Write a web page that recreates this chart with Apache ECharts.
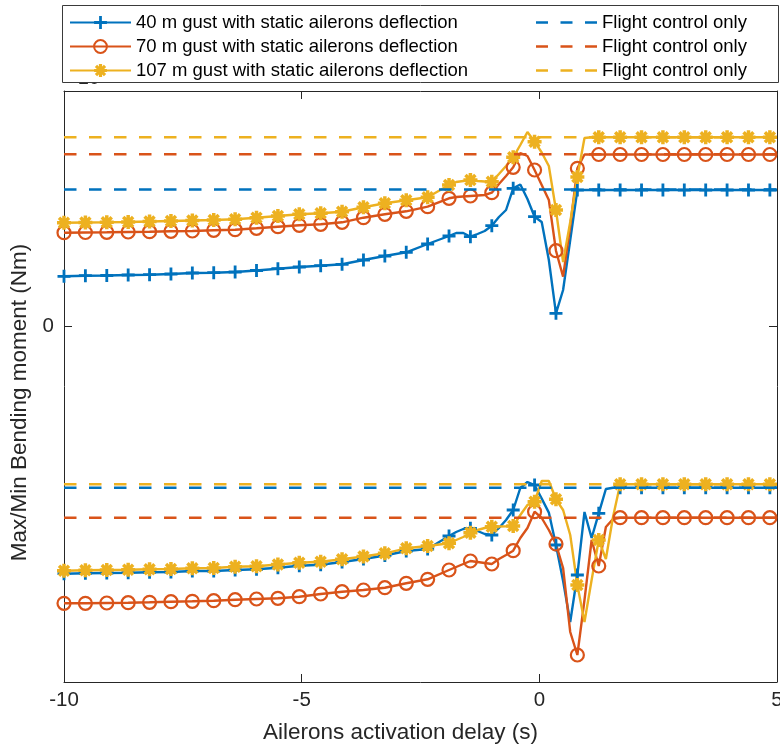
<!DOCTYPE html>
<html>
<head>
<meta charset="utf-8">
<script src="https://cdn.jsdelivr.net/npm/echarts@6/dist/echarts.min.js"></script>
<style>
html,body{margin:0;padding:0;background:#ffffff;}
#chart{width:780px;height:747px;}
</style>
</head>
<body>
<div id="chart"></div>
<script>
// ---------------- data ----------------
const delays = [-10, -9.55, -9.1, -8.65, -8.2, -7.75, -7.3, -6.85, -6.4, -5.95, -5.5, -5.05, -4.6, -4.15, -3.7, -3.25, -2.8, -2.35,
  -1.9, -1.75, -1.6, -1.45, -1.3, -1.15, -1.0, -0.85, -0.7, -0.55, -0.4, -0.25, -0.1, 0.05, 0.2, 0.35, 0.5, 0.65, 0.8, 0.95, 1.1, 1.25, 1.4, 1.55, 1.7,
  2.15, 2.6, 3.05, 3.5, 3.95, 4.4, 4.85, 5.0];

const gust40Max = [0.497, 0.503, 0.505, 0.51, 0.513, 0.52, 0.53, 0.533, 0.54, 0.555, 0.573, 0.59, 0.603, 0.617, 0.66, 0.70, 0.737, 0.82,
  0.90, 0.93, 0.93, 0.893, 0.92, 0.95, 1.003, 1.09, 1.16, 1.377, 1.415, 1.27, 1.093, 1.04, 0.66, 0.127, 0.36, 0.86, 1.36, 1.36, 1.36, 1.36, 1.36, 1.36, 1.36,
  1.36, 1.36, 1.36, 1.36, 1.36, 1.36, 1.36, 1.36];
const gust70Max = [0.933, 0.935, 0.937, 0.94, 0.943, 0.947, 0.95, 0.957, 0.963, 0.977, 0.993, 1.007, 1.017, 1.037, 1.083, 1.117, 1.147, 1.193,
  1.277, 1.29, 1.295, 1.30, 1.305, 1.31, 1.333, 1.42, 1.50, 1.587, 1.73, 1.70, 1.56, 1.41, 1.26, 0.753, 0.493, 1.00, 1.577, 1.715, 1.715, 1.715, 1.715, 1.715, 1.715,
  1.715, 1.715, 1.715, 1.715, 1.715, 1.715, 1.715, 1.715];
const gust107Max = [1.033, 1.035, 1.037, 1.04, 1.045, 1.05, 1.055, 1.06, 1.067, 1.083, 1.10, 1.117, 1.127, 1.143, 1.187, 1.227, 1.257, 1.287,
  1.41, 1.44, 1.45, 1.46, 1.45, 1.445, 1.443, 1.52, 1.60, 1.687, 1.81, 1.94, 1.843, 1.735, 1.60, 1.16, 0.64, 1.04, 1.49, 1.88, 1.887, 1.887, 1.887, 1.887, 1.887,
  1.887, 1.887, 1.887, 1.887, 1.887, 1.887, 1.887, 1.887];

const gust40Min = [-2.477, -2.473, -2.47, -2.467, -2.463, -2.46, -2.45, -2.45, -2.44, -2.433, -2.417, -2.397, -2.387, -2.36, -2.33, -2.295, -2.25, -2.23,
  -2.10, -2.06, -2.03, -2.023, -2.05, -2.08, -2.09, -2.02, -1.94, -1.84, -1.62, -1.56, -1.59, -1.726, -1.866, -2.19, -2.55, -2.96, -2.49, -1.86, -2.12, -1.873, -1.63, -1.617, -1.617,
  -1.617, -1.617, -1.617, -1.617, -1.617, -1.617, -1.617, -1.617];
const gust70Min = [-2.773, -2.773, -2.77, -2.767, -2.763, -2.757, -2.753, -2.747, -2.737, -2.73, -2.723, -2.707, -2.68, -2.657, -2.64, -2.617, -2.573, -2.533,
  -2.44, -2.41, -2.38, -2.35, -2.36, -2.37, -2.38, -2.33, -2.29, -2.247, -2.12, -2.02, -1.857, -1.92, -2.04, -2.18, -2.42, -3.06, -3.29, -2.74, -2.14, -2.40, -2.01, -1.93, -1.917,
  -1.917, -1.917, -1.917, -1.917, -1.917, -1.917, -1.917, -1.917];
const gust107Min = [-2.447, -2.443, -2.44, -2.437, -2.433, -2.43, -2.423, -2.42, -2.407, -2.403, -2.385, -2.367, -2.357, -2.333, -2.305, -2.273, -2.223, -2.20,
  -2.173, -2.14, -2.11, -2.067, -2.04, -2.02, -2.007, -2.005, -2.003, -2.00, -1.89, -1.79, -1.757, -1.55, -1.55, -1.733, -1.84, -2.09, -2.59, -2.96, -2.54, -2.14, -2.33, -1.91, -1.583,
  -1.583, -1.583, -1.583, -1.583, -1.583, -1.583, -1.583, -1.583];

// flight-control-only reference levels (max, min)
const flight40 = [1.365, -1.617];
const flight70 = [1.717, -1.917];
const flight107 = [1.887, -1.583];

const xRange = [-10, 5];
const xTickStep = 5;
const yRange = [-3.56, 2.35];
const yTicks = [0];
const markerStep = 0.45;

const solidNames = ['40 m gust with static ailerons deflection',
                    '70 m gust with static ailerons deflection',
                    '107 m gust with static ailerons deflection'];
const dashedLabel = 'Flight control only';
const xTitle = 'Ailerons activation delay (s)';
const yTitle = 'Max/Min Bending moment (Nm)';

// ---------------- styling ----------------
const BLUE = '#0072BD', RED = '#D95319', YEL = '#EDB120';
const AX = '#262626';
const FONT = "'Liberation Sans', Arial, Helvetica, sans-serif";
const PLUS = 'path://M-1.3,-6L1.3,-6L1.3,-1.3L6,-1.3L6,1.3L1.3,1.3L1.3,6L-1.3,6L-1.3,1.3L-6,1.3L-6,-1.3L-1.3,-1.3Z';
const STAR = 'path://M-6,-1.5L6,-1.5L6,1.5L-6,1.5Z M1.5,-6L1.5,6L-1.5,6L-1.5,-6Z ' +
  'M-3.182,-5.303L5.303,3.182L3.182,5.303L-5.303,-3.182Z M5.303,-3.182L-3.182,5.303L-5.303,3.182L3.182,-5.303Z';
const DASH = 'path://M0,0h12v2.4h-12z M24.5,0h12v2.4h-12z M49,0h12v2.4h-12z';
const LW = 2.4;

function isMarker(x) {
  const k = (x - xRange[0]) / markerStep;
  return Math.abs(k - Math.round(k)) < 1e-6;
}
function pairs(ys) {
  return delays.map((x, i) => isMarker(x) ? [x, ys[i]] : { value: [x, ys[i]], symbol: 'none' });
}
function solid(name, ys, color, symbol, size, itemStyle) {
  return {
    type: 'line', name: name, data: pairs(ys), symbol: symbol, symbolSize: size,
    lineStyle: { color: color, width: LW }, itemStyle: itemStyle,
    animation: false, silent: true, z: 3
  };
}
function dashed(name, v, color) {
  return {
    type: 'line', name: name, data: [[xRange[0], v], [xRange[1], v]], symbol: 'none',
    lineStyle: { color: color, width: LW, type: [12.5, 12.5] }, itemStyle: { color: color },
    animation: false, silent: true, z: 4
  };
}

const blueItem = { color: BLUE, borderWidth: 0 };
const redItem = { color: 'transparent', borderColor: RED, borderWidth: 2.2 };
const yelItem = { color: YEL, borderWidth: 0 };

const series = [
  solid(solidNames[0], gust40Max, BLUE, PLUS, 13, blueItem),
  solid(solidNames[0], gust40Min, BLUE, PLUS, 13, blueItem),
  solid(solidNames[1], gust70Max, RED, 'circle', 13, redItem),
  solid(solidNames[1], gust70Min, RED, 'circle', 13, redItem),
  solid(solidNames[2], gust107Max, YEL, STAR, 14, yelItem),
  solid(solidNames[2], gust107Min, YEL, STAR, 14, yelItem),
  dashed('fc40', flight40[0], BLUE), dashed('fc40', flight40[1], BLUE),
  dashed('fc70', flight70[0], RED), dashed('fc70', flight70[1], RED),
  dashed('fc107', flight107[0], YEL), dashed('fc107', flight107[1], YEL)
];

const axisLineStyle = { show: true, onZero: false, lineStyle: { color: AX, width: 1 } };
const tickStyle = { show: true, inside: true, length: 8, lineStyle: { color: AX, width: 1 } };

const option = {
  backgroundColor: '#ffffff',
  animation: false,
  grid: { left: 64, right: 3, top: 91, bottom: 65, containLabel: false, outerBoundsMode: 'none' },
  xAxis: [
    {
      type: 'value', min: xRange[0], max: xRange[1], interval: xTickStep, position: 'bottom',
      axisLine: axisLineStyle, axisTick: tickStyle, splitLine: { show: false },
      axisLabel: { color: AX, fontSize: 20.5, fontFamily: FONT, margin: 8 },
      name: xTitle, nameLocation: 'middle', nameGap: 39,
      nameTextStyle: { color: AX, fontSize: 22.5, fontFamily: FONT, padding: [0, 40, 0, 0] }
    },
    {
      type: 'value', min: xRange[0], max: xRange[1], interval: xTickStep, position: 'top',
      axisLine: axisLineStyle, axisTick: tickStyle, splitLine: { show: false },
      axisLabel: { show: false }
    }
  ],
  yAxis: [
    {
      type: 'value', min: yRange[0], max: yRange[1], position: 'left',
      axisLine: axisLineStyle,
      axisTick: Object.assign({}, tickStyle, { customValues: yTicks }),
      splitLine: { show: false },
      axisLabel: { color: AX, fontSize: 20.5, fontFamily: FONT, margin: 10, customValues: yTicks },
      name: yTitle, nameLocation: 'middle', nameGap: 28,
      nameTextStyle: { color: AX, fontSize: 22.5, fontFamily: FONT, padding: [0, 32, 0, 0] }
    },
    {
      type: 'value', min: yRange[0], max: yRange[1], position: 'right',
      axisLine: axisLineStyle,
      axisTick: Object.assign({}, tickStyle, { customValues: yTicks }),
      splitLine: { show: false },
      axisLabel: { show: false, customValues: yTicks }
    }
  ],
  graphic: [
    {
      type: 'text', left: 66, top: 68, z: 5,
      style: { text: '×10⁶', font: '20px ' + FONT, fill: AX }
    },
    {
      type: 'rect', z: 15,
      shape: { x: 62.5, y: 5.5, width: 716, height: 77 },
      style: { fill: '#ffffff', stroke: '#3a3a3a', lineWidth: 1 }
    }
  ],
  legend: [
    {
      data: solidNames, orient: 'vertical', left: 69, top: 13, padding: 0,
      itemWidth: 61, itemHeight: 16, itemGap: 5, selectedMode: false, z: 20,
      textStyle: { color: '#000000', fontSize: 18.5, fontFamily: FONT }
    },
    {
      data: [
        { name: 'fc40', icon: DASH, itemStyle: { color: BLUE, borderWidth: 0 } },
        { name: 'fc70', icon: DASH, itemStyle: { color: RED, borderWidth: 0 } },
        { name: 'fc107', icon: DASH, itemStyle: { color: YEL, borderWidth: 0 } }
      ],
      formatter: function () { return dashedLabel; },
      orient: 'vertical', left: 536, top: 13, padding: 0,
      itemWidth: 61, itemHeight: 2.4, itemGap: 5, selectedMode: false, z: 20,
      textStyle: { color: '#000000', fontSize: 18.5, fontFamily: FONT }
    }
  ],
  series: series
};

const chart = echarts.init(document.getElementById('chart'), null, { renderer: 'canvas' });
chart.setOption(option);
</script>
</body>
</html>
